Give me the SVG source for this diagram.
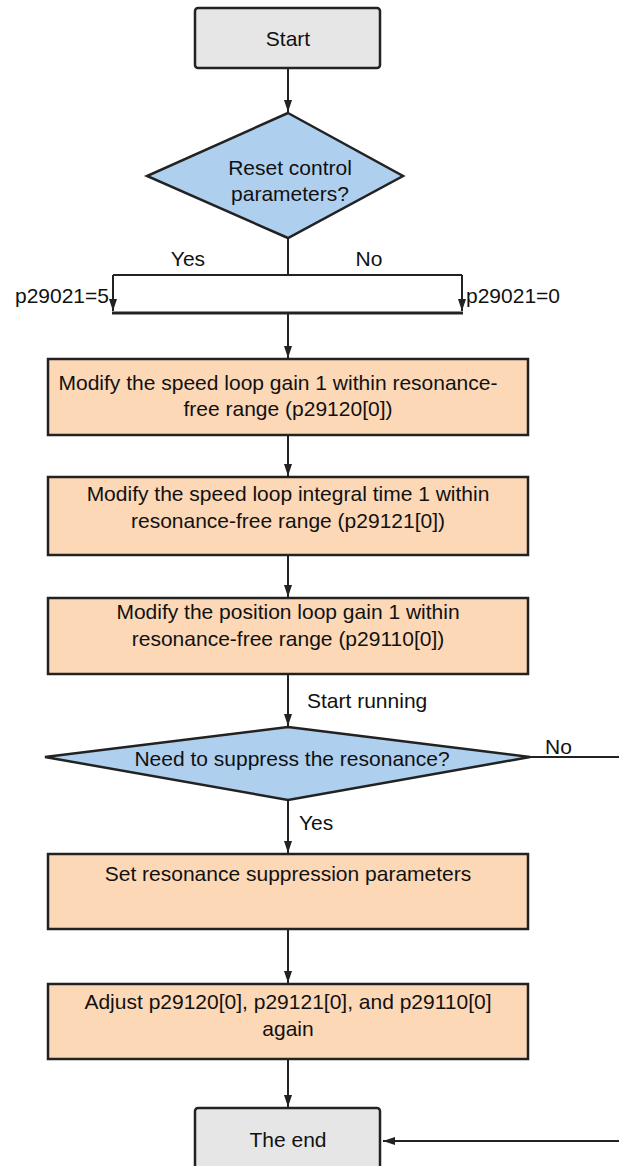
<svg xmlns="http://www.w3.org/2000/svg" width="619" height="1166" viewBox="0 0 619 1166">
<defs>
<style>
.t{font-family:"Liberation Sans",Arial,sans-serif;font-size:21px;fill:#111;text-anchor:middle}
.l{font-family:"Liberation Sans",Arial,sans-serif;font-size:21px;fill:#111}
.term{fill:#e6e6e6;stroke:#222;stroke-width:2.5}
.dec{fill:#aecfee;stroke:#222;stroke-width:2.5}
.proc{fill:#fcd8b7;stroke:#222;stroke-width:2.5}
.c{fill:none;stroke:#222;stroke-width:2}
</style>
<marker id="ah" viewBox="0 0 12 8" refX="12" refY="4" markerWidth="12" markerHeight="8" orient="auto" markerUnits="userSpaceOnUse">
<path d="M0,0 L12,4 L0,8 z" fill="#222"/>
</marker>
</defs>
<g id="connectors">
<line class="c" x1="288" y1="68" x2="288" y2="112" marker-end="url(#ah)"/>
<polyline class="c" points="288,238 288,275"/>
<polyline class="c" points="113,275 462,275"/>
<line class="c" x1="113" y1="275" x2="113" y2="311" marker-end="url(#ah)"/>
<line class="c" x1="462" y1="275" x2="462" y2="311" marker-end="url(#ah)"/>
<line x1="112" y1="313" x2="463" y2="313" stroke="#222" stroke-width="3"/>
<line class="c" x1="288" y1="313" x2="288" y2="358" marker-end="url(#ah)"/>
<line class="c" x1="288" y1="435" x2="288" y2="476" marker-end="url(#ah)"/>
<line class="c" x1="288" y1="555" x2="288" y2="597" marker-end="url(#ah)"/>
<line class="c" x1="288" y1="674" x2="288" y2="726" marker-end="url(#ah)"/>
<line class="c" x1="288" y1="800" x2="288" y2="853" marker-end="url(#ah)"/>
<line class="c" x1="288" y1="929" x2="288" y2="983" marker-end="url(#ah)"/>
<line class="c" x1="288" y1="1059" x2="288" y2="1107" marker-end="url(#ah)"/>
<polyline class="c" points="530,757 619,757"/>
<line class="c" x1="619" y1="1141" x2="383" y2="1141" marker-end="url(#ah)"/>
<text class="t" x="188" y="266">Yes</text>
<text class="t" x="369" y="266">No</text>
<text class="l" x="109" y="303" text-anchor="end">p29021=5</text>
<text class="l" x="466" y="303">p29021=0</text>
<text class="l" x="307" y="708">Start running</text>
<text class="l" x="545" y="754">No</text>
<text class="l" x="299" y="830">Yes</text>
</g>
<g id="start">
<rect class="term" x="195" y="8" width="185" height="60" rx="3"/>
<text class="t" x="288" y="46">Start</text>
</g>
<g id="reset">
<polygon class="dec" points="288,113 403,176 288,238 147,176"/>
<text class="t" x="290" y="175">Reset control</text>
<text class="t" x="290" y="201">parameters?</text>
</g>
<g id="box1">
<rect class="proc" x="48" y="359" width="480" height="76"/>
<text class="t" x="278" y="390">Modify the speed loop gain 1 within resonance-</text>
<text class="t" x="288" y="416">free range (p29120[0])</text>
</g>
<g id="box2">
<rect class="proc" x="48" y="477" width="480" height="78"/>
<text class="t" x="288" y="501">Modify the speed loop integral time 1 within</text>
<text class="t" x="288" y="528">resonance-free range (p29121[0])</text>
</g>
<g id="box3">
<rect class="proc" x="48" y="598" width="480" height="76"/>
<text class="t" x="288" y="619">Modify the position loop gain 1 within</text>
<text class="t" x="288" y="646">resonance-free range (p29110[0])</text>
</g>
<g id="suppress">
<polygon class="dec" points="288,727 530,757 288,800 45,757"/>
<text class="t" x="292" y="766">Need to suppress the resonance?</text>
</g>
<g id="box4">
<rect class="proc" x="48" y="854" width="480" height="75"/>
<text class="t" x="288" y="881">Set resonance suppression parameters</text>
</g>
<g id="box5">
<rect class="proc" x="48" y="984" width="480" height="75"/>
<text class="t" x="288" y="1009">Adjust p29120[0], p29121[0], and p29110[0]</text>
<text class="t" x="288" y="1036">again</text>
</g>
<g id="end">
<rect class="term" x="195" y="1108" width="185" height="64" rx="3"/>
<text class="t" x="288" y="1147">The end</text>
</g>
</svg>
